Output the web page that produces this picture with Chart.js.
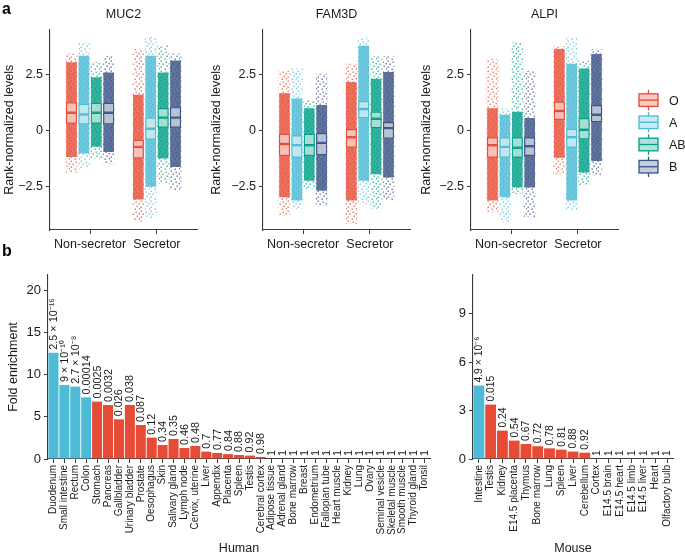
<!DOCTYPE html>
<html><head><meta charset="utf-8">
<script src="https://cdn.jsdelivr.net/npm/chart.js@4.4.1/dist/chart.umd.min.js"></script>
<style>
html,body{margin:0;padding:0;background:#fff;}
#wrap{position:relative;width:685px;height:558px;overflow:hidden;font-family:'Liberation Sans',Arial,Helvetica,sans-serif;background:#fff;}
canvas{position:absolute;}
.lab{position:absolute;font-weight:bold;font-size:16px;color:#000;line-height:18px;}
</style></head><body>
<div id="wrap">
<canvas id="c1" width="205" height="255" style="left:0;top:0"></canvas>
<canvas id="c2" width="213" height="255" style="left:207px;top:0"></canvas>
<canvas id="c3" width="268" height="255" style="left:417px;top:0"></canvas>
<canvas id="c4" width="440" height="300" style="left:0;top:258px"></canvas>
<canvas id="c5" width="235" height="300" style="left:450px;top:258px"></canvas>
<div class="lab" style="left:2px;top:0px">a</div>
<div class="lab" style="left:2px;top:242px">b</div>
</div>
<script>
// ---------- DATA ----------
const bloodGroups = ['O', 'A', 'AB', 'B'];
const secretorStatus = ['Non-secretor', 'Secretor'];
const genes = ['MUC2', 'FAM3D', 'ALPI'];
// rows: O, A, AB, B ; columns: Non-secretor, Secretor
const muc2Median  = [[0.79, -0.74], [0.71, 0.07], [0.79, 0.57], [0.79, 0.57]];
const muc2Q1      = [[0.30, -1.26], [0.27, -0.42], [0.30, 0.12], [0.27, 0.12]];
const muc2Q3      = [[1.26, -0.42], [1.19, 0.57], [1.24, 1.00], [1.24, 1.04]];
const muc2DenseLo = [[-1.19, -3.10], [-1.04, -2.53], [-0.74, -1.26], [-0.97, -1.64]];
const muc2DenseHi = [[3.05, 1.60], [3.35, 3.35], [2.38, 2.60], [2.60, 3.13]];
const muc2Min     = [[-1.90, -4.10], [-1.71, -3.94], [-1.26, -2.38], [-1.49, -2.68]];
const muc2Max     = [[3.45, 3.65], [3.94, 4.20], [3.05, 3.84], [3.35, 3.45]];

const fam3dMedian  = [[-0.61, -0.31], [-0.67, 0.96], [-0.67, 0.52], [-0.56, 0.10]];
const fam3dQ1      = [[-1.15, -0.78], [-1.23, 0.55], [-1.15, 0.10], [-1.11, -0.37]];
const fam3dQ3      = [[-0.16, 0.06], [-0.22, 1.32], [-0.16, 0.84], [-0.12, 0.37]];
const fam3dDenseLo = [[-3.00, -3.15], [-3.15, -2.26], [-2.26, -1.97], [-2.71, -2.12]];
const fam3dDenseHi = [[1.66, 2.17], [1.43, 3.80], [0.99, 2.32], [1.14, 2.62]];
const fam3dMin     = [[-3.82, -4.19], [-3.52, -3.30], [-2.63, -3.52], [-3.37, -3.12]];
const fam3dMax     = [[2.69, 2.99], [2.77, 4.17], [1.36, 3.33], [2.54, 3.33]];

const alpiMedian  = [[-0.67, 0.87], [-0.74, -0.31], [-0.78, 0.03], [-0.71, 0.70]];
const alpiQ1      = [[-1.23, 0.47], [-1.23, -0.78], [-1.23, -0.41], [-1.15, 0.37]];
const alpiQ3      = [[-0.31, 1.29], [-0.31, 0.07], [-0.31, 0.55], [-0.31, 1.14]];
const alpiDenseLo = [[-3.15, -1.23], [-3.00, -3.15], [-2.56, -1.89], [-2.56, -1.38]];
const alpiDenseHi = [[0.99, 3.65], [0.70, 2.99], [0.84, 2.77], [0.55, 3.43]];
const alpiMin     = [[-3.67, -1.97], [-4.11, -3.59], [-2.85, -2.49], [-3.89, -2.04]];
const alpiMax     = [[3.21, 3.77], [0.99, 4.17], [3.95, 3.14], [2.69, 3.65]];

const rankTicks = [-2.5, 0, 2.5];

const humanTissues = ['Duodenum', 'Small intestine', 'Rectum', 'Colon', 'Stomach', 'Pancreas', 'Gallbladder',
  'Urinary bladder', 'Prostate', 'Oesophagus', 'Skin', 'Salivary gland', 'Lymph node', 'Cervix, uterine', 'Liver',
  'Appendix', 'Placenta', 'Spleen', 'Testis', 'Cerebral cortex', 'Adipose tissue', 'Adrenal gland', 'Bone marrow',
  'Breast', 'Endometrium', 'Fallopian tube', 'Heart muscle', 'Kidney', 'Lung', 'Ovary', 'Seminal vesicle',
  'Skeletal muscle', 'Smooth muscle', 'Thyroid gland', 'Tonsil'];
const humanFold = [12.6, 8.76, 8.57, 7.3, 6.8, 6.4, 4.7, 6.4, 4.03, 2.53, 1.66, 2.37, 1.3, 1.54, 0.87, 0.71, 0.58,
  0.47, 0.4, 0.24, 0, 0, 0, 0, 0, 0, 0, 0, 0, 0, 0, 0, 0, 0, 0];
const humanPLabels = ['2.5 × 10\u207B\u00B9\u2076', '9 × 10\u207B\u00B9\u2070', '2.7 × 10\u207B\u2078', '0.00014',
  '0.0025', '0.0032', '0.026', '0.038', '0.087', '0.12', '0.34', '0.35', '0.46', '0.48', '0.7', '0.77', '0.84',
  '0.88', '0.92', '0.98', '1', '1', '1', '1', '1', '1', '1', '1', '1', '1', '1', '1', '1', '1', '1'];
const humanSignificantCount = 4;
const humanTicks = [0, 5, 10, 15, 20];

const mouseTissues = ['Intestine', 'Testis', 'Kidney', 'E14.5 placenta', 'Thymus', 'Bone marrow', 'Lung', 'Spleen',
  'Liver', 'Cerebellum', 'Cortex', 'E14.5 brain', 'E14.5 heart', 'E14.5 limb', 'E14.5 liver', 'Heart', 'Olfactory bulb'];
const mouseFold = [4.55, 3.37, 1.76, 1.14, 0.93, 0.79, 0.66, 0.58, 0.46, 0.39, 0, 0, 0, 0, 0, 0, 0];
const mousePLabels = ['4.9 × 10\u207B\u2076', '0.015', '0.24', '0.54', '0.67', '0.72', '0.78', '0.81', '0.88', '0.92',
  '1', '1', '1', '1', '1', '1', '1'];
const mouseSignificantCount = 1;
const mouseTicks = [0, 3, 6, 9];

// ---------- STYLE ----------
const FONT = "'Liberation Sans', Arial, Helvetica, sans-serif";
const groupColors = ['#E64B35', '#4DBBD5', '#00A087', '#3C5488'];
const groupCloud = ['rgba(232,80,58,0.82)', 'rgba(77,187,213,0.82)', 'rgba(0,160,135,0.8)', 'rgba(60,84,136,0.82)'];
const BLUE = '#4DBBD5', RED = '#E64B35';
const AXIS = '#3a3a3a', TXT = '#1a1a1a';
Chart.defaults.font.family = FONT;
Chart.defaults.color = TXT;

function tailPattern(color) {
  const c = document.createElement('canvas');
  c.width = 10; c.height = 10;
  const x = c.getContext('2d');
  x.fillStyle = color;
  x.globalAlpha = 0.8;
  [[0.5, 0.5], [5.5, 1.5], [2.5, 3.5], [8.5, 3.0], [6.5, 5.5], [0.5, 6.5], [4.5, 8.5], [9.0, 8.0]]
    .forEach(p => x.fillRect(p[0], p[1], 1.4, 1.4));
  return c.getContext('2d').createPattern(c, 'repeat');
}
const tailFills = groupColors.map(tailPattern);

function geneDatasets(median, q1, q3, dLo, dHi, mn, mx) {
  const range = (lo, hi, i) => secretorStatus.map((_, j) => ({x: j, y: [lo[i][j], hi[i][j]]}));
  const common = {categoryPercentage: 0.742, borderSkipped: false};
  const ds = [];
  const boxFill = 'rgba(255,255,255,0.58)';
  bloodGroups.forEach((g, i) => ds.push(Object.assign({label: g, stack: g, data: range(median, q3, i),
    backgroundColor: boxFill, borderColor: groupColors[i], borderWidth: 1.2, barPercentage: 0.9}, common)));
  bloodGroups.forEach((g, i) => ds.push(Object.assign({label: g, stack: g, data: range(q1, median, i),
    backgroundColor: boxFill, borderColor: groupColors[i], borderWidth: 1.2, barPercentage: 0.9}, common)));
  bloodGroups.forEach((g, i) => ds.push(Object.assign({label: g, stack: g, data: range(dLo, dHi, i),
    backgroundColor: groupCloud[i], borderWidth: 0, barPercentage: 0.86}, common)));
  bloodGroups.forEach((g, i) => ds.push(Object.assign({label: g, stack: g, data: range(mn, mx, i),
    backgroundColor: tailFills[i], borderWidth: 0, barPercentage: 0.95}, common)));
  return ds;
}

const legendPlugin = {
  id: 'boxLegend',
  afterDraw(chart) {
    const ctx = chart.ctx, a = chart.chartArea;
    ctx.save();
    bloodGroups.forEach((g, i) => {
      const cy = a.top + 70.5 + i * 22.2, x0 = a.right + 21, w = 19, h = 12.6;
      ctx.strokeStyle = groupColors[i]; ctx.lineWidth = 1.3;
      ctx.beginPath(); ctx.moveTo(x0 + w / 2, cy - h / 2 - 4); ctx.lineTo(x0 + w / 2, cy - h / 2);
      ctx.moveTo(x0 + w / 2, cy + h / 2); ctx.lineTo(x0 + w / 2, cy + h / 2 + 4); ctx.stroke();
      ctx.fillStyle = groupColors[i]; ctx.globalAlpha = 0.3; ctx.fillRect(x0, cy - h / 2, w, h); ctx.globalAlpha = 1;
      ctx.strokeRect(x0, cy - h / 2, w, h);
      ctx.beginPath(); ctx.moveTo(x0, cy); ctx.lineTo(x0 + w, cy); ctx.stroke();
      ctx.fillStyle = TXT; ctx.font = '12.5px ' + FONT; ctx.textAlign = 'left'; ctx.textBaseline = 'middle';
      ctx.fillText(g, a.right + 51, cy + 1);
    });
    ctx.restore();
  }
};

function topChart(id, title, dsets, yWidth, padRight, plugins) {
  return new Chart(document.getElementById(id), {
    type: 'bar',
    data: {datasets: dsets},
    plugins: plugins || [],
    options: {
      responsive: false, animation: false,
      layout: {padding: {left: 0, right: padRight, top: 0, bottom: 0}},
      plugins: {
        legend: {display: false}, tooltip: {enabled: false},
        title: {display: true, text: title, fullSize: false, font: {size: 12.5, weight: 'normal', family: FONT},
          color: TXT, padding: {top: 7, bottom: 7.6}}
      },
      scales: {
        x: {type: 'linear', min: -0.6, max: 1.6, offset: false,
          grid: {offset: false, drawOnChartArea: false, drawTicks: true, tickLength: 4, color: AXIS},
          border: {display: true, color: AXIS, width: 1.1},
          ticks: {stepSize: 1, includeBounds: false, autoSkip: false, maxRotation: 0, padding: 3,
            font: {size: 12.5}, color: TXT, callback: v => secretorStatus[v] !== undefined ? secretorStatus[v] : ''},
          afterFit: s => { s.height = 25; }
        },
        y: {type: 'linear', min: -4.47, max: 4.52, stacked: false,
          afterBuildTicks: s => { s.ticks = rankTicks.map(v => ({value: v})); },
          grid: {drawOnChartArea: false, drawTicks: true, tickLength: 4, color: AXIS},
          border: {display: true, color: AXIS, width: 1.1},
          ticks: {padding: 3, font: {size: 12.5}, color: TXT,
            callback: v => String(v).replace('-', '\u2212')},
          title: {display: true, text: 'Rank-normalized levels', font: {size: 12.5}, color: TXT, padding: {top: 2, bottom: 0}},
          afterFit: s => { s.width = yWidth; }
        }
      }
    }
  });
}

topChart('c1', genes[0], geneDatasets(muc2Median, muc2Q1, muc2Q3, muc2DenseLo, muc2DenseHi, muc2Min, muc2Max), 50, 8);
topChart('c2', genes[1], geneDatasets(fam3dMedian, fam3dQ1, fam3dQ3, fam3dDenseLo, fam3dDenseHi, fam3dMin, fam3dMax), 56, 10);
topChart('c3', genes[2], geneDatasets(alpiMedian, alpiQ1, alpiQ3, alpiDenseLo, alpiDenseHi, alpiMin, alpiMax), 54, 67, [legendPlugin]);

function pLabelPlugin(labels, size) {
  return {
    id: 'pLabels',
    afterDatasetsDraw(chart) {
      const ctx = chart.ctx, meta = chart.getDatasetMeta(0);
      ctx.save();
      ctx.font = size + 'px ' + FONT; ctx.fillStyle = TXT; ctx.textAlign = 'left'; ctx.textBaseline = 'middle';
      meta.data.forEach((bar, i) => {
        ctx.save(); ctx.translate(bar.x, bar.y - 3); ctx.rotate(-Math.PI / 2);
        ctx.fillText(labels[i], 0, 0.5); ctx.restore();
      });
      ctx.restore();
    }
  };
}

function bottomChart(id, cats, vals, labels, sigCount, ticks, yMax, yTitle, xTitle, yWidth, padRight, pSize) {
  return new Chart(document.getElementById(id), {
    type: 'bar',
    data: {labels: cats, datasets: [{data: vals, backgroundColor: cats.map((_, i) => i < sigCount ? BLUE : RED),
      borderWidth: 0, barPercentage: 0.92, categoryPercentage: 1}]},
    plugins: [pLabelPlugin(labels, pSize)],
    options: {
      responsive: false, animation: false,
      layout: {padding: {left: 0, right: padRight, top: 17, bottom: 0}},
      plugins: {legend: {display: false}, tooltip: {enabled: false}},
      scales: {
        x: {grid: {offset: false, drawOnChartArea: false, drawTicks: true, tickLength: 4, color: AXIS},
          border: {display: true, color: AXIS, width: 1.1},
          ticks: {autoSkip: false, maxRotation: 90, minRotation: 90, padding: 2, font: {size: 10}, color: TXT},
          title: {display: true, text: xTitle, font: {size: 12.5}, color: TXT, padding: {top: 0, bottom: 2}},
          afterFit: s => { s.height = 99; }
        },
        y: {min: 0, max: yMax,
          afterBuildTicks: s => { s.ticks = ticks.map(v => ({value: v})); },
          grid: {drawOnChartArea: false, drawTicks: true, tickLength: 4, color: AXIS},
          border: {display: true, color: AXIS, width: 1.1},
          ticks: {padding: 3, font: {size: 13}, color: TXT},
          title: {display: !!yTitle, text: yTitle, font: {size: 12.5}, color: TXT, padding: {top: 6, bottom: 0}},
          afterFit: s => { s.width = yWidth; }
        }
      }
    }
  });
}

bottomChart('c4', humanTissues, humanFold, humanPLabels, humanSignificantCount, humanTicks, 21.8, 'Fold enrichment', 'Human', 48, 10, 10.8);
bottomChart('c5', mouseTissues, mouseFold, mousePLabels, mouseSignificantCount, mouseTicks, 11.4, '', 'Mouse', 23, 12, 10.4);
</script>
</body></html>
